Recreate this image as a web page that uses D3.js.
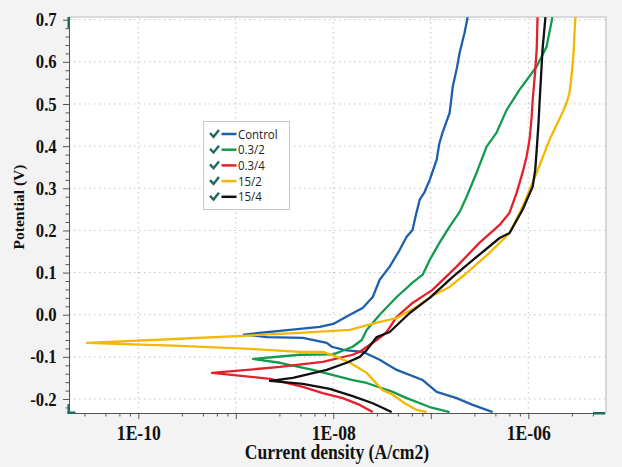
<!DOCTYPE html>
<html>
<head>
<meta charset="utf-8">
<script src="https://cdnjs.cloudflare.com/ajax/libs/d3/7.8.5/d3.min.js"></script>
<style>
  body { margin: 0; background: #f3f3f3; }
  svg { display: block; }
  .serif { font-family: "Liberation Serif", "Times New Roman", serif; font-weight: bold; fill: #111; }
  .legend-text { font-family: "Open Sans", sans-serif; font-size: 13px; fill: #222; }
</style>
</head>
<body>
<div id="chart"></div>
<script>
// series names + colours (legend order)
var seriesNames = ["Control", "0.3/2", "0.3/4", "15/2", "15/4"];
var seriesColors = ["#1d5fad", "#149a4c", "#e2212b", "#f4b800", "#111111"];

// [current density (A/cm2), potential (V)], cathodic end -> tip -> anodic end
var control = [[4.31e-7,-0.231],[2.69e-7,-0.214],[1.84e-7,-0.198],[1.15e-7,-0.183],[8.26e-8,-0.155],[4.47e-8,-0.131],
  [2.99e-8,-0.107],[2.0e-8,-0.088],[1.31e-8,-0.084],[9.65e-9,-0.076],[8.57e-9,-0.067],[4.87e-9,-0.055],[2.08e-9,-0.053],
  [1.21e-9,-0.047],[3.58e-9,-0.036],[7.27e-9,-0.029],[1.0e-8,-0.022],[1.48e-8,0.000],[2.0e-8,0.016],[2.54e-8,0.042],
  [2.99e-8,0.083],[3.79e-8,0.114],[4.8e-8,0.154],[5.66e-8,0.185],[6.5e-8,0.201],[7.0e-8,0.235],[7.7e-8,0.273],
  [8.6e-8,0.290],[9.75e-8,0.320],[1.15e-7,0.368],[1.22e-7,0.405],[1.32e-7,0.432],[1.56e-7,0.479],[1.62e-7,0.510],
  [1.68e-7,0.541],[1.85e-7,0.585],[1.98e-7,0.622],[2.22e-7,0.669],[2.39e-7,0.706]];
var s03_2 = [[1.56e-7,-0.231],[9.75e-8,-0.219],[5.66e-8,-0.198],[4.07e-8,-0.183],[2.2e-8,-0.162],[1.58e-8,-0.155],
  [6.17e-9,-0.131],[2.83e-9,-0.114],[1.50e-9,-0.105],[4.54e-9,-0.095],[9.9e-9,-0.094],[1.17e-8,-0.088],[1.58e-8,-0.076],
  [1.96e-8,-0.060],[2.2e-8,-0.036],[2.99e-8,0.000],[4.47e-8,0.042],[6.5e-8,0.076],[8.26e-8,0.095],[9.75e-8,0.130],
  [1.23e-7,0.171],[1.56e-7,0.209],[1.98e-7,0.244],[2.33e-7,0.280],[2.95e-7,0.337],[3.74e-7,0.399],[4.73e-7,0.432],
  [6.0e-7,0.486],[8.15e-7,0.534],[1.22e-6,0.589],[1.54e-6,0.636],[1.77e-6,0.706]];
var s03_4 = [[2.54e-8,-0.231],[1.87e-8,-0.214],[1.25e-8,-0.198],[7.8e-9,-0.186],[4.87e-9,-0.171],[2.24e-9,-0.152],
  [5.69e-10,-0.138],[2.83e-9,-0.124],[7.8e-9,-0.112],[1.58e-8,-0.095],[1.87e-8,-0.088],[2.79e-8,-0.060],[3.53e-8,-0.041],
  [4.47e-8,-0.005],[6.5e-8,0.028],[1.04e-7,0.059],[1.84e-7,0.114],[3.17e-7,0.171],[5.08e-7,0.213],[6.43e-7,0.242],
  [7.59e-7,0.289],[8.74e-7,0.337],[9.6e-7,0.375],[1.03e-6,0.415],[1.08e-6,0.465],[1.11e-6,0.510],[1.17e-6,0.570],
  [1.22e-6,0.629],[1.245e-6,0.706]];
var s15_2 = [[9.08e-8,-0.231],[7.17e-8,-0.226],[5.4e-8,-0.210],[4.07e-8,-0.190],[3.21e-8,-0.179],[2.2e-8,-0.138],
  [1.48e-8,-0.114],[1.09e-8,-0.100],[7.8e-9,-0.088],[4.54e-9,-0.088],[1.39e-9,-0.081],[2.67e-10,-0.074],[2.98e-11,-0.067],
  [2.67e-10,-0.057],[1.18e-9,-0.050],[4.54e-9,-0.043],[1.48e-8,-0.036],[2.79e-8,-0.019],[4.47e-8,-0.008],[7.17e-8,0.019],
  [1.04e-7,0.045],[1.56e-7,0.066],[2.33e-7,0.099],[4.01e-7,0.147],[6.43e-7,0.194],[8.74e-7,0.256],[1.22e-6,0.337],
  [1.65e-6,0.415],[1.95e-6,0.450],[2.24e-6,0.479],[2.47e-6,0.503],[2.65e-6,0.527],[2.75e-6,0.558],[2.84e-6,0.589],
  [2.93e-6,0.630],[2.98e-6,0.669],[3.05e-6,0.706]];
var s15_4 = [[3.97e-8,-0.231],[2.54e-8,-0.210],[1.58e-8,-0.193],[9.2e-9,-0.176],[4.87e-9,-0.164],[2.24e-9,-0.157],
  [3.85e-9,-0.150],[8.57e-9,-0.131],[1.37e-8,-0.114],[1.87e-8,-0.100],[2.2e-8,-0.084],[2.79e-8,-0.053],[3.79e-8,-0.041],
  [6.08e-8,0.004],[9.75e-8,0.040],[1.68e-7,0.090],[2.95e-7,0.137],[5.08e-7,0.182],[6.43e-7,0.194],[8.74e-7,0.249],
  [1.11e-6,0.304],[1.18e-6,0.345],[1.22e-6,0.391],[1.27e-6,0.450],[1.31e-6,0.510],[1.40e-6,0.629],[1.50e-6,0.706]];

// ticks
var xDecades = [1e-10, 1e-9, 1e-8, 1e-7, 1e-6];
var xTickLabels = ["1E-10", "", "1E-08", "", "1E-06"];
var xMinorSteps = [2.8, 4.6, 6.4, 8.2];
var yTicks = [-0.2, -0.1, 0.0, 0.1, 0.2, 0.3, 0.4, 0.5, 0.6, 0.7];

var allSeries = [control, s03_2, s03_4, s15_2, s15_4];

var W = 622, H = 467;
var pL = 69, pR = 605, pT = 17, pB = 413;
var squash = "scale(0.88,1)";

var svg = d3.select("#chart").append("svg")
  .attr("width", W)
  .attr("height", H);

var xScale = d3.scaleLog()
  .domain([Math.pow(10, -10.711), Math.pow(10, -5.213)])
  .range([pL, pR]);

var yScale = d3.scaleLinear()
  .domain([-0.2332, 0.7064])
  .range([pB, pT]);

// plot area
svg.append("rect")
  .attr("x", pL).attr("y", pT)
  .attr("width", pR - pL).attr("height", pB - pT)
  .attr("fill", "#fff");
svg.append("path")
  .attr("d", "M" + pL + "," + pT + "H" + (pR + 1) + "V" + pB)
  .attr("fill", "none")
  .attr("stroke", "#cfcfcf")
  .attr("stroke-width", 1.5);

// grid
svg.append("g").selectAll("line")
  .data(xDecades).enter().append("line")
  .attr("x1", function(d) { return xScale(d); })
  .attr("x2", function(d) { return xScale(d); })
  .attr("y1", pT).attr("y2", pB)
  .attr("stroke", "#c4c4c4").attr("stroke-dasharray", "1.5,3.5");
svg.append("g").selectAll("line")
  .data(yTicks).enter().append("line")
  .attr("x1", pL).attr("x2", pR)
  .attr("y1", function(d) { return yScale(d); })
  .attr("y2", function(d) { return yScale(d); })
  .attr("stroke", "#c4c4c4").attr("stroke-dasharray", "1.5,3.5");

// minor ticks
var xMinor = [];
[1e-11, 1e-10, 1e-9, 1e-8, 1e-7, 1e-6].forEach(function(dec) {
  xMinorSteps.forEach(function(s) {
    var v = dec * s;
    if (xScale(v) > pL + 2 && xScale(v) < pR - 2) xMinor.push(v);
  });
});
var yMinor = d3.range(-22, 71, 2).map(function(k) { return k / 100; })
  .filter(function(v) { return Math.abs(Math.round(v * 10) - v * 10) > 1e-6; });

svg.append("g")
  .attr("transform", "translate(0," + pB + ")")
  .call(d3.axisBottom(xScale).tickValues(xMinor).tickSize(3.5).tickFormat(""))
  .call(function(g) { g.select(".domain").remove(); })
  .selectAll("line").attr("stroke", "#555");
svg.append("g")
  .attr("transform", "translate(" + pL + ",0)")
  .call(d3.axisLeft(yScale).tickValues(yMinor).tickSize(3.5).tickFormat(""))
  .call(function(g) { g.select(".domain").remove(); })
  .selectAll("line").attr("stroke", "#555");

// main axes
var xAxis = svg.append("g")
  .attr("transform", "translate(0," + pB + ")")
  .call(d3.axisBottom(xScale).tickValues(xDecades).tickSize(6).tickSizeOuter(0)
    .tickFormat(function(d, i) { return xTickLabels[i]; }));
xAxis.select(".domain").attr("stroke", "#555");
xAxis.selectAll(".tick line").attr("stroke", "#555");
xAxis.selectAll(".tick text")
  .attr("class", "serif")
  .style("font-size", "20px")
  .attr("y", 13)
  .attr("transform", squash);

var yAxis = svg.append("g")
  .attr("transform", "translate(" + pL + ",0)")
  .call(d3.axisLeft(yScale).tickValues(yTicks).tickSize(6).tickSizeOuter(0)
    .tickFormat(function(d) { return d.toFixed(1); }));
yAxis.select(".domain").attr("stroke", "#555");
yAxis.selectAll(".tick line").attr("stroke", "#555");
yAxis.selectAll(".tick text")
  .attr("class", "serif")
  .style("font-size", "19px")
  .attr("x", -14)
  .attr("transform", squash);

// teal scroll handles on the axes
var handle = "#1d6b5b";
svg.append("rect").attr("x", 67.5).attr("y", 17).attr("width", 2.5).attr("height", 11).attr("fill", handle);
svg.append("rect").attr("x", 67.5).attr("y", 404).attr("width", 2.5).attr("height", 10).attr("fill", handle);
svg.append("rect").attr("x", 67.5).attr("y", 411.5).attr("width", 8).attr("height", 2.5).attr("fill", handle);
svg.append("rect").attr("x", 593).attr("y", 412).attr("width", 12).attr("height", 2.5).attr("fill", handle);

// curves
svg.append("clipPath").attr("id", "clip")
  .append("rect").attr("x", pL).attr("y", pT).attr("width", pR - pL).attr("height", pB - pT);

var line = d3.line()
  .x(function(d) { return xScale(d[0]); })
  .y(function(d) { return yScale(d[1]); });

svg.append("g").attr("clip-path", "url(#clip)")
  .selectAll("path")
  .data(allSeries).enter().append("path")
  .attr("d", line)
  .attr("fill", "none")
  .attr("stroke", function(d, i) { return seriesColors[i]; })
  .attr("stroke-width", 2.3)
  .attr("stroke-linejoin", "round");

// legend
var lg = svg.append("g");
lg.append("rect")
  .attr("x", 203.5).attr("y", 121.5).attr("width", 86).attr("height", 88)
  .attr("fill", "#fff").attr("stroke", "#c8c8c8");
var row = lg.selectAll(".row")
  .data(seriesNames).enter().append("g")
  .attr("class", "row")
  .attr("transform", function(d, i) { return "translate(0," + (134 + i * 15.7) + ")"; });
row.append("path")
  .attr("d", "M210,-1 L213.5,2.8 L219,-4")
  .attr("fill", "none").attr("stroke", handle).attr("stroke-width", 2.4);
row.append("line")
  .attr("x1", 221.5).attr("x2", 236.5)
  .attr("stroke", function(d, i) { return seriesColors[i]; })
  .attr("stroke-width", 2.5);
row.append("text")
  .attr("class", "legend-text")
  .attr("transform", "translate(238,4.5) " + squash)
  .text(function(d) { return d; });

// axis titles
svg.append("text")
  .attr("class", "serif")
  .style("font-size", "20px")
  .attr("text-anchor", "middle")
  .attr("transform", "translate(337,459) " + squash)
  .text("Current density (A/cm2)");

svg.append("text")
  .attr("class", "serif")
  .style("font-size", "15.5px")
  .attr("text-anchor", "middle")
  .attr("transform", "translate(24,207) rotate(-90)")
  .text("Potential (V)");
</script>
</body>
</html>
